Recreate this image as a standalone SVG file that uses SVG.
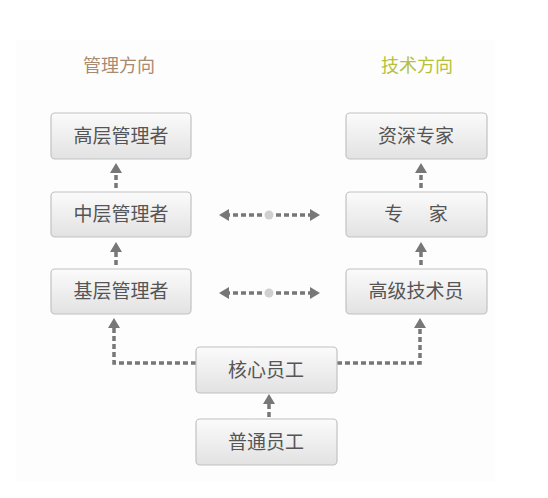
<svg xmlns="http://www.w3.org/2000/svg" width="548" height="498" viewBox="0 0 548 498">
<defs>
<linearGradient id="g" x1="0" y1="0" x2="0" y2="1">
<stop offset="0" stop-color="#fbfbfb"/>
<stop offset="1" stop-color="#e2e2e2"/>
</linearGradient>
<marker id="ah" viewBox="0 0 10 12" refX="3" refY="6" markerWidth="10" markerHeight="12" markerUnits="userSpaceOnUse" orient="auto-start-reverse">
<path d="M0,0 L10,6 L0,12 Z" fill="#777"/>
</marker>
<style>
.box{fill:url(#g);stroke:#c2c2c2;stroke-width:1.2}
.t{font-family:"Noto Sans CJK SC","Liberation Sans",sans-serif;font-size:19px;fill:#555;text-anchor:middle}
.h{font-family:"Noto Sans CJK SC","Liberation Sans",sans-serif;font-size:18px;text-anchor:middle}
.c{fill:none;stroke:#777;stroke-width:3.5;stroke-dasharray:5 3}
</style>
</defs>
<rect x="0" y="0" width="548" height="498" fill="#ffffff"/>
<rect x="16" y="40" width="479" height="441" fill="#fdfdfd"/>
<text class="h" x="119" y="72" fill="#a88a72">管理方向</text>
<text class="h" x="417" y="72" fill="#b6c13a">技术方向</text>
<g id="connectors">
<path class="c" d="M116,188 V170" marker-end="url(#ah)"/>
<path class="c" d="M116,265 V249" marker-end="url(#ah)"/>
<path class="c" d="M421,188 V170" marker-end="url(#ah)"/>
<path class="c" d="M421,265 V249" marker-end="url(#ah)"/>
<path class="c" d="M269,417 V401" marker-end="url(#ah)"/>
<path class="c" d="M196,363 H114 V325" marker-end="url(#ah)"/>
<path class="c" d="M337,363 H420 V325" marker-end="url(#ah)"/>
<path class="c" d="M262,215 H226" marker-end="url(#ah)"/>
<path class="c" d="M276,215 H313" marker-end="url(#ah)"/>
<circle cx="269" cy="215" r="4.5" fill="#d0d0d0"/>
<path class="c" d="M262,293 H226" marker-end="url(#ah)"/>
<path class="c" d="M276,293 H313" marker-end="url(#ah)"/>
<circle cx="269" cy="293" r="4.5" fill="#d0d0d0"/>
</g>
<g id="n1"><rect class="box" x="51" y="113" width="140" height="46" rx="4"/><text class="t" x="121" y="143">高层管理者</text></g>
<g id="n2"><rect class="box" x="51" y="192" width="140" height="45" rx="4"/><text class="t" x="121" y="221">中层管理者</text></g>
<g id="n3"><rect class="box" x="51" y="269" width="140" height="45" rx="4"/><text class="t" x="121" y="298">基层管理者</text></g>
<g id="n4"><rect class="box" x="346" y="113" width="141" height="46" rx="4"/><text class="t" x="416" y="143">资深专家</text></g>
<g id="n5"><rect class="box" x="346" y="192" width="141" height="45" rx="4"/><text class="t" x="416" y="221" xml:space="preserve">专      家</text></g>
<g id="n6"><rect class="box" x="346" y="269" width="141" height="45" rx="4"/><text class="t" x="416" y="298">高级技术员</text></g>
<g id="n7"><rect class="box" x="196" y="347" width="141" height="46" rx="4"/><text class="t" x="266" y="377">核心员工</text></g>
<g id="n8"><rect class="box" x="196" y="419" width="141" height="46" rx="4"/><text class="t" x="266" y="449">普通员工</text></g>
</svg>
